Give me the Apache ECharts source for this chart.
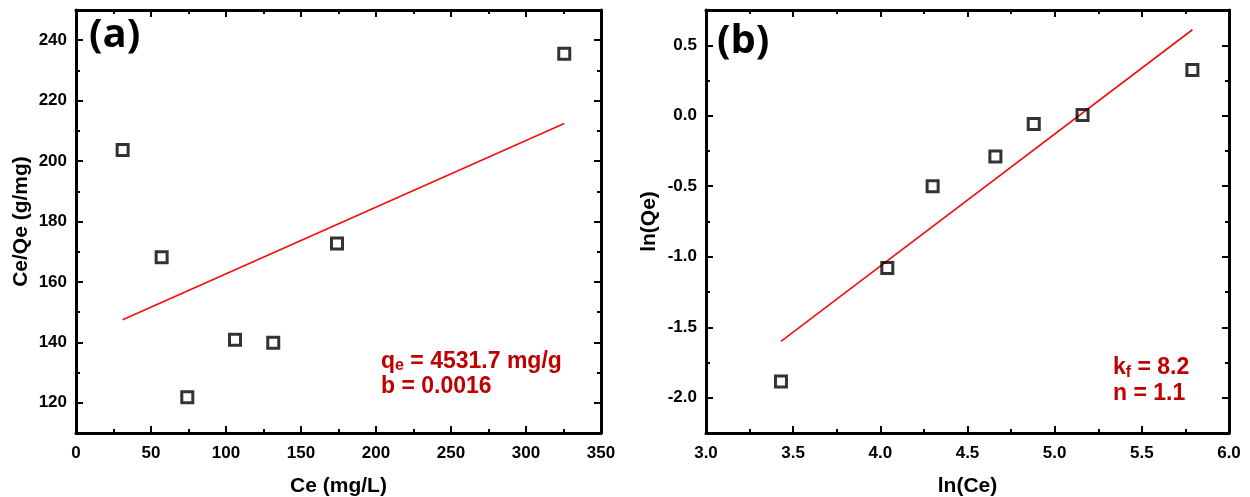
<!DOCTYPE html>
<html>
<head>
<meta charset="utf-8">
<script src="https://cdn.jsdelivr.net/npm/echarts@6/dist/echarts.min.js"></script>
<style>
html,body{margin:0;padding:0;background:#fff;}
#chart{width:1250px;height:497px;}
</style>
</head>
<body>
<div id="chart"></div>
<script>
// ---- Panel (a): Langmuir ----
const ceA = [31.1, 57.1, 74.2, 106.0, 131.5, 174.0, 325.5];
const ceQeA = [203.7, 168.2, 121.8, 140.9, 139.9, 172.7, 235.5];
const fitAx = [31.1, 325.5];
const fitAy = [147.5, 212.4];
const yTicksA = [120, 140, 160, 180, 200, 220, 240];
const yMinorA = [130, 150, 170, 190, 210, 230];

// ---- Panel (b): Freundlich ----
const lnCe = [3.43, 4.04, 4.30, 4.66, 4.88, 5.16, 5.79];
const lnQe = [-1.884, -1.08, -0.50, -0.289, -0.059, 0.005, 0.324];
const fitBx = [3.43, 5.79];
const fitBy = [-1.60, 0.61];
const yTicksB = [-2.0, -1.5, -1.0, -0.5, 0.0, 0.5];
const yMinorB = [-1.75, -1.25, -0.75, -0.25, 0.25];

const FONT = 'Liberation Sans, Arial, sans-serif';
const RED = '#c00000';

const pairs = (xs, ys) => xs.map((x, i) => [x, ys[i]]);

function xAx(grid, pos, min, max, interval, showLabel, fmt) {
  return {
    type: 'value', gridIndex: grid, position: pos, min, max, interval,
    axisLine: {show: true, onZero: false, lineStyle: {color: '#000', width: 3}},
    axisTick: {show: true, inside: true, length: 7, lineStyle: {color: '#000', width: 2}},
    minorTick: {show: true, splitNumber: 2, length: 4, lineStyle: {color: '#000', width: 2}},
    splitLine: {show: false}, minorSplitLine: {show: false},
    axisLabel: {show: showLabel, margin: 12, color: '#000', fontFamily: FONT, fontWeight: 'bold', fontSize: 17,
      formatter: fmt}
  };
}
function yMajor(grid, pos, min, max, ticks, showLabel, fmt, name, nameGap) {
  return {
    type: 'value', gridIndex: grid, position: pos, min, max,
    axisLine: {show: true, onZero: false, lineStyle: {color: '#000', width: 3}},
    axisTick: {show: true, inside: true, length: 7, customValues: ticks, lineStyle: {color: '#000', width: 2}},
    splitLine: {show: false},
    axisLabel: {show: showLabel, margin: 9, color: '#000', fontFamily: FONT, fontWeight: 'bold', fontSize: 17,
      customValues: ticks, formatter: fmt},
    name: name || '', nameLocation: 'middle', nameGap: nameGap || 0,
    nameTextStyle: {color: '#000', fontFamily: FONT, fontWeight: 'bold', fontSize: 21}
  };
}
function yMinor(grid, pos, min, max, ticks) {
  return {
    type: 'value', gridIndex: grid, position: pos, min, max, offset: 0,
    axisLine: {show: false, onZero: false},
    axisTick: {show: true, inside: true, length: 4, customValues: ticks, lineStyle: {color: '#000', width: 2}},
    splitLine: {show: false},
    axisLabel: {show: false}
  };
}

const fmt1 = v => Number(v).toFixed(1);

const xA = xAx(0, 'bottom', 0, 350, 50, true);
xA.name = 'Ce (mg/L)'; xA.nameLocation = 'middle'; xA.nameGap = 43;
xA.nameTextStyle = {color: '#000', fontFamily: FONT, fontWeight: 'bold', fontSize: 21};
const xB = xAx(1, 'bottom', 3, 6, 0.5, true, fmt1);
xB.name = 'ln(Ce)'; xB.nameLocation = 'middle'; xB.nameGap = 43;
xB.nameTextStyle = {color: '#000', fontFamily: FONT, fontWeight: 'bold', fontSize: 21};

const richStyle = (lh) => ({
  m: {fontSize: 23, lineHeight: lh, fontWeight: 'bold', fontFamily: FONT, fill: RED},
  s: {fontSize: 16, lineHeight: 17, verticalAlign: 'bottom', fontWeight: 'bold', fontFamily: FONT, fill: RED}
});

const option = {
  backgroundColor: '#fff',
  animation: false,
  grid: [
    {left: 76, top: 10, width: 525, height: 423, outerBoundsMode: 'none', containLabel: false},
    {left: 706, top: 10, width: 523, height: 423, outerBoundsMode: 'none', containLabel: false}
  ],
  xAxis: [
    xA,
    xAx(0, 'top', 0, 350, 50, false),
    xB,
    xAx(1, 'top', 3, 6, 0.5, false)
  ],
  yAxis: [
    yMajor(0, 'left', 110, 250, yTicksA, true, undefined, 'Ce/Qe (g/mg)', 44),
    yMinor(0, 'left', 110, 250, yMinorA),
    yMajor(0, 'right', 110, 250, yTicksA, false),
    yMinor(0, 'right', 110, 250, yMinorA),
    yMajor(1, 'left', -2.25, 0.75, yTicksB, true, fmt1, 'ln(Qe)', 46),
    yMinor(1, 'left', -2.25, 0.75, yMinorB),
    yMajor(1, 'right', -2.25, 0.75, yTicksB, false),
    yMinor(1, 'right', -2.25, 0.75, yMinorB)
  ],
  series: [
    {type: 'line', xAxisIndex: 0, yAxisIndex: 0, data: pairs(fitAx, fitAy), showSymbol: false,
      lineStyle: {color: '#f01010', width: 1.6}, z: 2},
    {type: 'scatter', xAxisIndex: 0, yAxisIndex: 0, data: pairs(ceA, ceQeA), symbol: 'rect', symbolSize: 11,
      itemStyle: {color: 'rgba(255,255,255,0)', borderColor: '#000', borderWidth: 3}, z: 3},
    {type: 'line', xAxisIndex: 2, yAxisIndex: 4, data: pairs(fitBx, fitBy), showSymbol: false,
      lineStyle: {color: '#f01010', width: 1.6}, z: 2},
    {type: 'scatter', xAxisIndex: 2, yAxisIndex: 4, data: pairs(lnCe, lnQe), symbol: 'rect', symbolSize: 11,
      itemStyle: {color: 'rgba(255,255,255,0)', borderColor: '#000', borderWidth: 3}, z: 3}
  ],
  graphic: [
    {type: 'text', left: 89, top: 16, style: {text: '(a)', font: 'bold 40px "Open Sans", sans-serif', fill: '#000'}},
    {type: 'text', left: 717, top: 22, style: {text: '(b)', font: 'bold 40px "Open Sans", sans-serif', fill: '#000'}},
    {type: 'text', left: 381, top: 350, style: {
      text: '{m|q}{s|e}{m| = 4531.7 mg/g}\n{m|b = 0.0016}',
      rich: richStyle(25)
    }},
    {type: 'text', left: 1113, top: 356, style: {
      text: '{m|k}{s|f}{m| = 8.2}\n{m|n = 1.1}',
      rich: richStyle(26)
    }}
  ]
};

const chart = echarts.init(document.getElementById('chart'), null, {renderer: 'canvas'});
chart.setOption(option);
</script>
</body>
</html>
